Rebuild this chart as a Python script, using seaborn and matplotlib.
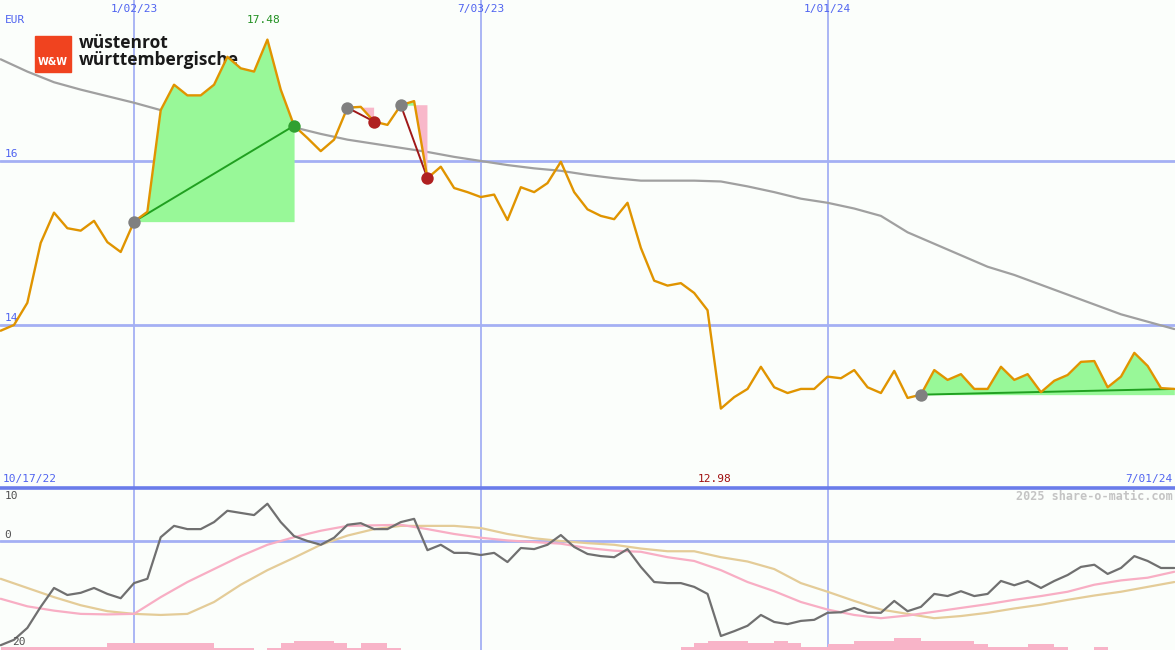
import numpy as np
import seaborn as sns
import matplotlib.pyplot as plt
from matplotlib.patches import Rectangle

# weekly closing prices (EUR), week 0 = 10/17/22
price = [13.93, 14.00, 14.27, 15.00, 15.37, 15.18, 15.15, 15.27, 15.01, 14.89,
         15.26, 15.38, 16.62, 16.93, 16.80, 16.80, 16.93, 17.27, 17.13, 17.09,
         17.48, 16.87, 16.43, 16.28, 16.12, 16.26, 16.65, 16.66, 16.48, 16.44,
         16.68, 16.73, 15.79, 15.93, 15.67, 15.62, 15.56, 15.59, 15.28, 15.68,
         15.62, 15.73, 15.99, 15.62, 15.41, 15.33, 15.29, 15.49, 14.94, 14.54,
         14.48, 14.51, 14.39, 14.18, 12.98, 13.12, 13.22, 13.49, 13.24, 13.17,
         13.22, 13.22, 13.37, 13.35, 13.45, 13.24, 13.17, 13.44, 13.11, 13.15,
         13.45, 13.33, 13.40, 13.22, 13.22, 13.49, 13.33, 13.40, 13.18, 13.32,
         13.39, 13.55, 13.56, 13.24, 13.37, 13.66, 13.50, 13.23, 13.22]
weeks = np.arange(len(price))

# long moving average, read every 2 weeks
ma_weeks = list(range(0, 89, 2))
ma = [17.24, 17.09, 16.96, 16.87, 16.79, 16.71, 16.62, 16.59, 16.50, 16.45,
      16.43, 16.41, 16.33, 16.26, 16.21, 16.16, 16.11, 16.05, 16.00, 15.95,
      15.91, 15.88, 15.83, 15.79, 15.76, 15.76, 15.76, 15.75, 15.69, 15.62,
      15.54, 15.49, 15.42, 15.33, 15.13, 14.99, 14.85, 14.71, 14.61, 14.49,
      14.37, 14.25, 14.13, 14.04, 13.95]

# trades: (entry week, exit week)
trades = [(10, 22), (26, 28), (30, 32), (69, 88)]
open_trade = (69, 88)

# lower panel oscillator
osc = [-19.3, -18.3, -16.1, -12.2, -8.7, -10.0, -9.6, -8.7, -9.8, -10.6,
       -7.8, -7.0, 0.7, 2.8, 2.2, 2.2, 3.5, 5.6, 5.2, 4.8,
       6.9, 3.5, 0.9, 0.0, -0.7, 0.6, 3.0, 3.3, 2.2, 2.2,
       3.5, 4.1, -1.7, -0.7, -2.2, -2.2, -2.6, -2.2, -3.9, -1.3,
       -1.5, -0.7, 1.1, -1.1, -2.4, -2.8, -3.0, -1.5, -4.8, -7.6,
       -7.8, -7.8, -8.5, -9.8, -17.6, -16.7, -15.7, -13.7, -15.0, -15.4,
       -14.8, -14.6, -13.3, -13.2, -12.4, -13.3, -13.3, -11.1, -13.0, -12.2,
       -9.8, -10.2, -9.3, -10.2, -9.8, -7.4, -8.2, -7.4, -8.7, -7.4,
       -6.3, -4.8, -4.4, -6.1, -5.0, -2.8, -3.7, -5.0, -5.0]
osc_weeks = ma_weeks
osc_fast = [-10.7, -12.1, -12.9, -13.5, -13.6, -13.5, -10.4, -7.6, -5.2, -2.8,
            -0.7, 0.7, 1.9, 2.8, 2.9, 3.0, 2.2, 1.3, 0.6, 0.1,
            -0.2, -0.5, -1.3, -1.8, -2.0, -3.0, -3.7, -5.4, -7.6, -9.3,
            -11.3, -12.7, -13.7, -14.3, -13.8, -13.1, -12.4, -11.7, -10.9, -10.2,
            -9.4, -8.1, -7.3, -6.8, -5.7]
osc_slow = [-7.0, -8.7, -10.4, -11.9, -13.0, -13.5, -13.7, -13.5, -11.3, -8.1,
            -5.4, -3.1, -0.7, 1.0, 2.2, 2.8, 2.8, 2.8, 2.4, 1.3,
            0.5, 0.0, -0.4, -0.7, -1.4, -1.9, -1.9, -3.0, -3.8, -5.2,
            -7.8, -9.4, -11.1, -12.7, -13.5, -14.3, -13.9, -13.3, -12.5, -11.8,
            -10.9, -10.1, -9.4, -8.5, -7.6]
volume = ([0.5] * 8 + [1.3] * 8 + [0.4] * 3 + [0, 0.4, 1.3] + [1.7] * 3
          + [1.3, 0.4, 1.3, 1.3, 0.4] + [0] * 21
          + [0.55, 1.3, 1.7, 1.7, 1.7, 1.3, 1.3, 1.7, 1.3, 0.55, 0.55, 1.1, 1.1]
          + [1.7] * 3 + [2.2, 2.2] + [1.7] * 4 + [1.1] + [0.55] * 3
          + [1.1, 1.1, 0.55, 0, 0, 0.55] + [0] * 6)

date_ticks = [10, 36, 62]
date_labels = ['1/02/23', '7/03/23', '1/01/24']
first_date, last_date = '10/17/22', '7/01/24'

BG = '#FBFEFB'
GRID = '#A4B0F4'
BLUE = '#5064F0'

sns.set_style('white')
plt.rcParams['font.family'] = ['DejaVu Sans Mono']

W, H = 1175, 650
fig = plt.figure(figsize=(W / 100, H / 100), dpi=100)
fig.patch.set_facecolor(BG)
ax = fig.add_axes([0, 163 / H, 1, 487 / H])
ax2 = fig.add_axes([0, 0, 1, 163 / H])

xlim = (-0.05, 88.05)
ylo, yhi = 12.024, 17.963
olo, ohi = -20.19, 10.0

# main panel grid
for lvl in (16, 14):
    ax.axhline(lvl, color=GRID, lw=2, zorder=0)
for t in date_ticks:
    ax.axvline(t, color=GRID, lw=1.3, zorder=0)
    ax2.axvline(t, color=GRID, lw=1.3, zorder=0)

# logo
ax.add_patch(Rectangle((35 / W, 1 - 72 / 487), 36 / W, 36 / 487,
                       transform=ax.transAxes, color='#F0431F', zorder=1))
ax.text(53 / W, 1 - 62 / 487, 'W&W', transform=ax.transAxes, color='white',
        fontsize=7, fontweight='bold', ha='center', va='center',
        family='DejaVu Sans', zorder=1.1)
ax.text(79 / W, 1 - 43 / 487, 'wüstenrot', transform=ax.transAxes,
        color='#1A1A1A', fontsize=12.5, fontweight='bold', family='Open Sans',
        ha='left', va='center', zorder=1.1)
ax.text(79 / W, 1 - 60 / 487, 'württembergische', transform=ax.transAxes,
        color='#1A1A1A', fontsize=12.5, fontweight='bold', family='Open Sans',
        ha='left', va='center', zorder=1.1)

sns.lineplot(x=ma_weeks, y=ma, ax=ax, color='#A0A0A0', lw=1.6, zorder=2)

p_arr = np.array(price)
for a, b in trades:
    x = weeks[a:b + 1]
    p = p_arr[a:b + 1]
    e = p_arr[a]
    ax.fill_between(x, p, e, where=p >= e, interpolate=True,
                    color='#98F898', lw=0, zorder=2.5)
    ax.fill_between(x, p, e, where=p <= e, interpolate=True,
                    color='#F8B8CA', lw=0, zorder=2.5)
    win = p_arr[b] >= e
    ax.plot([a, b], [e, p_arr[b]], color='#20A020' if win else '#A01818',
            lw=1.4, zorder=3)

sns.lineplot(x=weeks, y=price, ax=ax, color='#E09400', lw=1.7, zorder=4)

for a, b in trades:
    ax.scatter([a], [price[a]], s=80, color='#808080', zorder=5, lw=0)
    if (a, b) != open_trade:
        win = price[b] >= price[a]
        ax.scatter([b], [price[b]], s=80, color='#30A030' if win else '#B02020',
                   zorder=5, lw=0)

ax.set_xlim(*xlim)
ax.set_ylim(ylo, yhi)

# labels main panel
tx = ax.get_xaxis_transform()
ty = ax.get_yaxis_transform()
for t, lab in zip(date_ticks, date_labels):
    ax.text(t, 1 - 9 / 487, lab, transform=tx, ha='center', va='center',
            color=BLUE, fontsize=8)
ax.text(0.004, 1 - 20 / 487, 'EUR', transform=ax.transAxes, ha='left',
        va='center', color=BLUE, fontsize=8)
for lvl in (16, 14):
    ax.text(0.004, lvl + 0.03, str(lvl), transform=ty, ha='left',
            va='bottom', color=BLUE, fontsize=8)
imax, imin = int(np.argmax(price)), int(np.argmin(price))
ax.text(imax - 0.3, 1 - 20 / 487, f'{price[imax]:.2f}', transform=tx,
        ha='center', va='center', color='#209020', fontsize=8)
ax.text(imin - 0.5, 1 - 479 / 487, f'{price[imin]:.2f}', transform=tx,
        ha='center', va='center', color='#A01010', fontsize=8)
ax.text(0.002, 1 - 479 / 487, first_date, transform=ax.transAxes,
        ha='left', va='center', color=BLUE, fontsize=8)
ax.text(0.998, 1 - 479 / 487, last_date, transform=ax.transAxes,
        ha='right', va='center', color=BLUE, fontsize=8)

# lower panel
ax2.axhline(0, color=GRID, lw=2, zorder=0)
ax2.bar(weeks, volume, width=1, align='edge', bottom=olo,
        color='#F8B4C8', lw=0, zorder=1)
sns.lineplot(x=osc_weeks, y=osc_slow, ax=ax2, color='#E4CC98', lw=1.6, zorder=2)
sns.lineplot(x=osc_weeks, y=osc_fast, ax=ax2, color='#F8AEC4', lw=1.6, zorder=2)
sns.lineplot(x=weeks, y=osc, ax=ax2, color='#707070', lw=1.6, zorder=3)
ax2.axhline(ohi - 0.2, color='#6A7CEA', lw=2.6, zorder=4, clip_on=False)
ax2.set_xlim(*xlim)
ax2.set_ylim(olo, ohi)
ax2.text(0.004, 1 - 9 / 163, '10', transform=ax2.transAxes, ha='left',
         va='center', color='#505050', fontsize=8)
ax2.text(0.004, 1 - 48 / 163, '0', transform=ax2.transAxes, ha='left',
         va='center', color='#505050', fontsize=8)
ax2.text(0.010, 1 - 155 / 163, '20', transform=ax2.transAxes, ha='left',
         va='center', color='#505050', fontsize=8)
ax2.text(0.998, 1 - 9 / 163, '2025 share-o-matic.com', transform=ax2.transAxes,
         ha='right', va='center', color='#C4C4C4', fontsize=8.5,
         fontweight='bold')

for a_ in (ax, ax2):
    a_.set_axis_off()

fig.savefig('out.png', dpi=100, facecolor=BG)
